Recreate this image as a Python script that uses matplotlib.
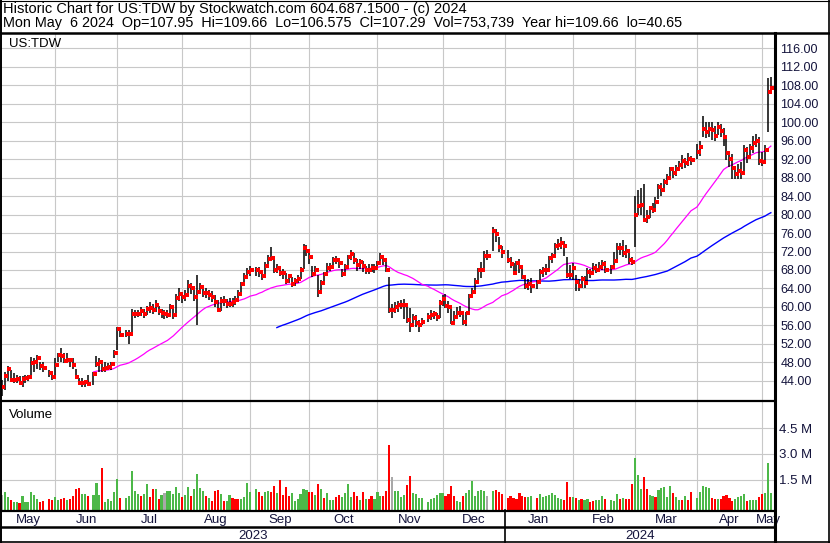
"""Stockwatch-style historic chart for US:TDW, May 2023 - May 2024."""
import numpy as np
import pandas as pd
import matplotlib
matplotlib.use('Agg')
import matplotlib.pyplot as plt
from matplotlib.lines import Line2D

plt.rcParams['font.family'] = ['Liberation Sans', 'DejaVu Sans']

START, END = '2023-05-08', '2024-05-06'
HOLIDAYS = ['2023-05-29', '2023-06-19', '2023-07-04', '2023-09-04', '2023-11-23',
            '2023-12-25', '2024-01-01', '2024-01-15', '2024-02-19', '2024-03-29']

# daily close / high / low, one row per month
close = [
    42.6, 45.1, 46.7, 44.2, 44.2, 44.4, 43.6, 44.5, 44.7, 44.9, 47.8, 48.0, 48.9, 47.2, 46.9, 45.8, 44.8,
    47.5, 49.6, 49.4, 48.4, 48.6, 48.6, 47.5, 44.8, 43.6, 43.6, 43.8, 43.4, 45.5, 47.7, 48.0, 46.7, 46.9, 47.1, 47.7, 50.1, 55.3,
    54.0, 54.2, 54.2, 58.5, 58.5, 58.5, 59.2, 58.5, 59.5, 59.7, 59.4, 60.4, 59.1, 58.6, 58.4, 58.3, 59.9, 58.3, 61.9, 62.8,
    62.2, 62.6, 64.5, 64.0, 62.2, 63.3, 64.4, 63.0, 63.1, 62.6, 62.2, 61.1, 59.4, 61.4, 61.3, 60.7, 60.7, 61.1, 61.5, 62.8, 64.9, 66.5, 67.6,
    67.9, 67.9, 67.6, 66.7, 68.9, 70.4, 70.7, 67.9, 68.5, 67.4, 67.3, 65.6, 66.6, 65.0, 65.7, 66.1, 67.9, 72.8, 72.2, 70.9,
    67.1, 68.0, 63.3, 65.1, 67.1, 68.4, 68.7, 70.2, 70.2, 69.5, 67.1, 68.7, 70.9, 71.4, 70.2, 69.1, 69.8, 68.9, 67.9, 68.0, 68.5, 68.4,
    69.5, 70.9, 70.2, 67.9, 59.4, 59.4, 59.9, 60.4, 60.4, 60.4, 57.2, 56.1, 57.7, 56.6, 56.1, 56.8, 57.9, 58.3, 58.5, 57.9, 60.8,
    61.7, 60.2, 59.9, 56.6, 57.9, 58.8, 58.8, 56.8, 58.6, 62.4, 63.3, 65.3, 68.0, 68.1, 71.1, 71.1, 76.5, 75.7, 72.9, 72.0,
    70.2, 69.3, 67.3, 69.5, 68.6, 66.4, 64.5, 65.0, 64.5, 65.3, 67.6, 68.1, 68.0, 70.5, 71.0, 73.2, 73.4, 73.8, 73.2, 66.9, 66.9,
    68.4, 65.3, 64.5, 66.0, 65.1, 67.6, 67.4, 68.4, 68.1, 68.6, 69.3, 67.9, 68.7, 70.0, 72.7, 72.7, 71.7, 72.2, 70.2, 69.8,
    80.0, 81.8, 82.0, 78.9, 79.4, 81.3, 81.0, 82.8, 86.0, 85.2, 87.0, 87.8, 89.8, 88.9, 89.8, 90.8, 91.6, 91.1, 91.9, 91.8,
    93.6, 94.7, 98.5, 97.9, 98.5, 98.3, 97.0, 99.0, 98.1, 96.8, 93.4, 92.0, 90.0, 88.7, 89.3, 89.0, 93.9, 92.5, 94.3, 95.5, 96.0, 91.6,
    91.3, 93.9, 106.4, 107.29,
]
high = [
    44.2, 46.0, 47.2, 46.4, 45.7, 45.3, 45.0, 45.1, 45.4, 45.3, 49.2, 48.9, 49.6, 48.1, 48.2, 46.4, 46.0,
    48.9, 50.1, 51.1, 50.0, 50.0, 49.0, 48.9, 46.7, 44.6, 44.6, 44.3, 45.3, 46.0, 49.3, 48.9, 47.8, 48.2, 47.8, 48.2, 50.7, 55.7,
    55.7, 55.0, 55.0, 59.6, 59.4, 59.4, 60.0, 59.6, 60.3, 61.0, 60.6, 61.6, 60.2, 59.6, 59.4, 59.3, 60.7, 60.3, 62.9, 64.0,
    63.3, 63.6, 65.8, 65.2, 63.6, 66.9, 65.2, 64.4, 64.2, 63.7, 63.4, 62.6, 61.6, 62.2, 62.4, 61.8, 61.9, 62.0, 62.4, 63.6, 65.5, 67.4, 68.4,
    68.8, 68.6, 68.7, 68.0, 69.7, 71.3, 73.0, 70.3, 69.2, 68.9, 68.2, 67.4, 67.2, 66.5, 66.3, 66.9, 68.6, 73.7, 73.3, 72.4,
    68.9, 68.8, 66.9, 65.8, 67.6, 69.5, 69.6, 70.9, 71.0, 70.6, 68.3, 69.4, 71.3, 72.3, 71.6, 70.4, 70.4, 70.0, 68.9, 69.2, 69.3, 69.2,
    70.0, 71.6, 71.3, 70.4, 66.4, 60.6, 61.0, 61.2, 61.5, 61.7, 60.3, 59.7, 58.4, 58.2, 57.2, 57.6, 58.7, 59.4, 59.1, 58.7, 61.5,
    62.6, 62.8, 61.4, 59.7, 59.2, 59.9, 60.3, 59.0, 59.0, 62.8, 64.1, 66.2, 68.4, 69.8, 72.2, 72.4, 77.3, 76.8, 75.2, 73.2,
    72.4, 70.8, 69.5, 70.0, 70.4, 68.9, 66.6, 66.0, 66.2, 65.9, 68.2, 68.7, 69.2, 71.1, 71.7, 73.9, 74.6, 75.1, 74.3, 70.9, 69.0,
    69.6, 67.0, 66.0, 66.6, 66.8, 68.4, 68.3, 69.5, 69.2, 69.7, 70.2, 69.9, 69.0, 71.9, 73.8, 73.8, 74.4, 73.4, 72.4, 70.9,
    84.0, 85.3, 85.7, 86.7, 80.9, 81.9, 82.5, 83.7, 86.7, 86.8, 87.7, 88.8, 90.3, 90.2, 90.6, 91.6, 92.9, 92.3, 93.2, 92.7,
    95.3, 95.8, 101.2, 99.9, 100.0, 100.0, 99.1, 100.0, 99.6, 98.7, 96.6, 93.5, 93.0, 90.0, 90.9, 91.3, 95.0, 94.5, 95.3, 97.0, 97.4, 96.7,
    93.6, 95.1, 109.5, 109.66,
]
low = [
    40.65, 42.0, 43.9, 43.9, 43.6, 43.5, 43.1, 42.6, 43.6, 43.9, 45.2, 46.0, 46.7, 46.4, 46.0, 44.9, 44.3,
    44.6, 48.2, 48.2, 47.8, 48.2, 47.1, 46.7, 44.6, 43.1, 42.8, 42.8, 43.1, 43.1, 47.1, 46.0, 46.0, 46.0, 46.4, 46.4, 48.9, 50.7,
    53.6, 53.6, 52.1, 54.7, 57.6, 57.8, 58.0, 57.7, 58.2, 58.7, 58.4, 59.0, 58.2, 57.7, 57.5, 57.6, 58.2, 57.4, 58.8, 61.2,
    60.8, 61.4, 62.8, 62.8, 61.4, 56.0, 62.8, 62.2, 61.9, 61.6, 61.0, 60.0, 58.9, 59.2, 60.2, 59.8, 59.9, 60.1, 60.5, 61.2, 62.5, 64.6, 66.0,
    66.7, 66.8, 66.5, 65.9, 66.6, 68.6, 70.0, 67.4, 67.3, 66.6, 66.0, 65.0, 65.1, 64.3, 64.6, 65.2, 66.0, 68.3, 71.0, 69.3,
    66.5, 67.0, 62.2, 63.2, 65.5, 66.6, 67.8, 68.3, 69.3, 68.5, 66.4, 67.2, 68.8, 70.2, 69.3, 67.7, 68.2, 67.5, 67.1, 67.1, 67.5, 67.3,
    68.0, 69.2, 69.0, 67.5, 58.6, 57.7, 58.7, 59.0, 59.5, 57.5, 56.5, 54.5, 55.9, 55.6, 54.5, 56.0, 56.7, 57.2, 57.4, 56.9, 57.6,
    60.2, 59.8, 58.8, 56.3, 56.2, 57.7, 57.8, 56.2, 55.8, 58.4, 62.2, 62.8, 65.2, 66.3, 68.2, 70.2, 72.2, 74.0, 72.0, 70.6,
    69.5, 68.5, 66.9, 67.0, 67.4, 66.0, 63.9, 63.6, 63.1, 63.9, 65.3, 66.4, 66.9, 68.4, 69.6, 71.3, 72.3, 72.6, 71.0, 66.3, 66.0,
    65.9, 63.5, 63.4, 64.1, 64.2, 65.6, 66.2, 67.0, 67.3, 67.5, 68.1, 67.4, 67.2, 68.9, 69.9, 71.2, 70.9, 70.6, 69.3, 69.0,
    73.0, 79.9, 79.9, 78.6, 78.2, 79.2, 80.3, 80.7, 83.3, 84.1, 85.6, 86.4, 87.9, 87.8, 88.4, 89.6, 89.9, 90.1, 90.5, 90.6,
    92.0, 92.6, 96.8, 96.5, 96.8, 96.2, 96.0, 97.2, 96.7, 94.9, 91.7, 90.3, 87.7, 87.6, 87.6, 87.6, 88.6, 91.1, 92.1, 93.3, 94.6, 90.7,
    90.4, 91.4, 97.9, 106.575,
]
# volume in millions of shares
volume = [
    0.63, 0.82, 0.49, 0.34, 0.24, 0.24, 0.18, 0.57, 0.24, 0.24, 0.80, 0.62, 0.39, 0.24, 0.30, 0.39, 0.35,
    0.51, 0.34, 0.39, 0.45, 0.34, 0.39, 0.57, 0.97, 1.03, 0.70, 0.66, 0.57, 0.61, 1.32, 0.61, 2.19, 0.22, 0.41, 0.28, 0.80, 1.55,
    0.45, 0.45, 0.57, 2.01, 0.86, 0.66, 0.57, 0.68, 1.26, 0.51, 0.95, 0.97, 0.39, 0.62, 0.74, 0.86, 0.86, 0.68, 1.09, 0.74,
    0.49, 0.61, 1.07, 0.57, 0.99, 1.84, 1.03, 0.86, 0.57, 0.45, 0.30, 0.88, 0.92, 0.66, 0.30, 0.30, 0.62, 0.43, 0.39, 0.37, 0.41, 0.53, 1.32,
    0.78, 0.97, 0.82, 0.57, 0.82, 0.88, 0.80, 1.15, 0.76, 1.49, 0.62, 1.07, 0.57, 0.74, 0.30, 0.37, 0.66, 0.95, 0.90, 0.80,
    0.80, 0.62, 1.26, 0.97, 0.47, 0.76, 0.35, 0.35, 0.49, 0.62, 0.51, 0.76, 1.26, 0.51, 0.80, 0.59, 0.35, 0.80, 0.39, 0.39, 0.57, 0.41,
    0.80, 0.57, 0.57, 0.88, 3.52, 1.65, 0.86, 0.86, 0.53, 0.63, 1.20, 1.73, 0.72, 0.66, 0.45, 0.45, 0.22, 0.41, 0.43, 0.62, 0.72,
    0.72, 0.57, 0.68, 1.15, 0.57, 0.30, 0.24, 0.57, 0.72, 0.92, 1.46, 0.57, 0.88, 0.92, 0.88, 0.57, 0.88, 0.92, 0.80, 0.68,
    0.47, 0.59, 0.47, 0.41, 0.76, 0.57, 0.53, 0.51, 0.59, 0.47, 0.68, 0.53, 0.55, 0.65, 0.74, 0.62, 0.43, 0.39, 0.34, 1.40, 0.53,
    0.53, 0.47, 0.35, 0.41, 0.34, 0.39, 0.24, 0.28, 0.34, 0.35, 0.57, 0.41, 0.34, 0.30, 0.68, 0.41, 0.45, 0.41, 0.41, 1.26,
    2.75, 1.78, 0.97, 1.67, 0.95, 0.62, 0.57, 0.53, 0.92, 1.01, 1.07, 0.53, 1.15, 0.76, 0.53, 0.34, 0.35, 0.59, 0.35, 0.80,
    0.45, 0.82, 1.15, 1.07, 1.01, 0.45, 0.37, 0.41, 0.41, 0.57, 0.61, 0.45, 0.30, 0.41, 0.51, 0.57, 0.68, 0.30, 0.34, 0.34, 0.35, 0.51,
    0.68, 0.72, 2.50, 0.75,
]
# volume bar colour as drawn: g = up, r = down, n = unchanged (one string per month)
vol_dir = ''.join([
    'nggrggrggggggrrrr',
    'ggrrgrrrrggrgggrggggg',
    'rgggggrggrrgrgnggggg',
    'rggrggggrgrrrgrggrrrggg',
    'ggrrggrrgrrrrggggggr',
    'rgrgrgggrrggggrrgrgrrg',
    'ggrrrngg' 'ggrrgggg' 'ggggg',
    'grrrrggrgggggggn' 'grrr',
    'rrrrrrrgg' 'rggggggggrrr',
    'grgrggrrgggr' 'gggrgrrr',
    'gggrrggrgggggrggrgrr',
    'gggggrrgrrrrrggggrgggr',
    'rggg',
])
assert len(close) == len(high) == len(low) == len(volume) == len(vol_dir)

# --- geometry: one slot per weekday, holidays leave an empty slot ---
weekdays = pd.bdate_range(START, END)
tdays = weekdays[~weekdays.isin(pd.to_datetime(HOLIDAYS))]
x = weekdays.get_indexer(tdays)
assert len(x) == len(close)
close_s = pd.Series(close)
ma30 = close_s.rolling(30).mean()
ma90 = close_s.rolling(90).mean()

month_starts = pd.date_range('2023-06-01', '2024-05-01', freq='MS')
grid_x = weekdays.searchsorted(month_starts, side='right') - 1
XLIM = (-0.27, 261.4)

W, H = 830, 543
fig = plt.figure(figsize=(W / 100, H / 100), dpi=100)


def box(x0, y0, x1, y1):
    return [x0 / W, 1 - y1 / H, (x1 - x0) / W, (y1 - y0) / H]


def hline(y, x0, x1, lw):
    fig.add_artist(Line2D([x0 / W, x1 / W], [1 - y / H] * 2, color='black', lw=lw))


def vline(xp, y0, y1, lw):
    fig.add_artist(Line2D([xp / W] * 2, [1 - y0 / H, 1 - y1 / H], color='black', lw=lw))


GRID = '#c8c8c8'
LABEL = '#14143c'

# price panel
ax = fig.add_axes(box(1, 34, 775, 400))
ax.set_xlim(*XLIM)
ax.set_ylim(39.89, 119.03)
yt = np.arange(44, 117, 4)
ax.set_yticks(yt)
ax.set_yticklabels([f'{v:.2f}' for v in yt])
ax.yaxis.tick_right()
ax.tick_params(axis='y', length=0, pad=4.0, labelsize=9.0, labelcolor=LABEL)
ax.set_xticks([])
ax.yaxis.grid(True, color=GRID, lw=0.8)
for g in grid_x:
    ax.axvline(g, color=GRID, lw=0.8, zorder=0)
ax.set_axisbelow(True)
for sp in ax.spines.values():
    sp.set_visible(False)

ax.plot(x, ma90, color='#0000ff', lw=1.0, zorder=2)
ax.plot(x, ma30, color='#ff00ff', lw=0.9, zorder=2)
ax.vlines(x, low, high, colors='black', lw=1.1, zorder=3)
ax.plot(x + 0.55, close, 's', color='#ff0000', ms=2.6, mew=0, zorder=4)

# volume panel
VMIN, VMAX = -0.214, 6.01
axv = fig.add_axes(box(1, 402, 775, 509.5))
axv.set_xlim(*XLIM)
axv.set_ylim(VMIN, VMAX)
vt = [1.5, 3.0, 4.5]
axv.set_yticks(vt)
axv.set_yticklabels([f'{v:.1f} M' for v in vt])
axv.yaxis.tick_right()
axv.tick_params(axis='y', length=0, pad=3.0, labelsize=9.5, labelcolor=LABEL)
axv.set_xticks([])
axv.yaxis.grid(True, color=GRID, lw=0.8)
for g in grid_x:
    axv.axvline(g, color=GRID, lw=0.8, zorder=0)
axv.set_axisbelow(True)
for sp in axv.spines.values():
    sp.set_visible(False)
vcol = {'g': '#4cb848', 'r': '#ff0000', 'n': '#a8a8a8'}
axv.bar(x, np.array(volume) - VMIN, bottom=VMIN, width=0.72,
        color=[vcol[c] for c in vol_dir], zorder=2)

# month band and year band
axm = fig.add_axes(box(1, 510, 775, 527))
axy = fig.add_axes(box(1, 527, 775, 542))
for a in (axm, axy):
    a.set_xlim(*XLIM)
    a.set_ylim(0, 1)
    a.axis('off')
edges = [XLIM[0]] + list(grid_x) + [XLIM[1]]
names = ['May'] + [d.strftime('%b') for d in month_starts]
for i, name in enumerate(names):
    axm.text((edges[i] + edges[i + 1]) / 2, 0.25, name, ha='center', va='baseline',
             fontsize=9.5, color=LABEL)
jan = grid_x[list(month_starts.month).index(1)]
axy.text((XLIM[0] + jan) / 2, 0.2, '2023', ha='center', va='baseline', fontsize=9.5, color=LABEL)
axy.text((jan + XLIM[1]) / 2, 0.2, '2024', ha='center', va='baseline', fontsize=9.5, color=LABEL)
jan_px = 1 + (jan - XLIM[0]) / (XLIM[1] - XLIM[0]) * 774
vline(jan_px, 510, 542, 1.2)

# frame and separators
hline(0.5, 0, 830, 0.8)
hline(32.5, 0, 830, 1.8)
hline(401, 0, 775, 1.6)
hline(510.5, 0, 775, 1.6)
hline(527, 0, 775, 1.8)
hline(542, 0, 830, 1.2)
vline(0.7, 0, 543, 1.4)
vline(774.5, 32.5, 543, 2.2)
vline(829, 0, 543, 1.2)

# texts
fig.text(3 / W, 1 - 13.2 / H, 'Historic Chart for US:TDW by Stockwatch.com 604.687.1500 - (c) 2024',
         fontsize=10.5, va='baseline')
fig.text(3 / W, 1 - 27.5 / H,
         'Mon May  6 2024  Op=107.95  Hi=109.66  Lo=106.575  Cl=107.29  Vol=753,739  Year hi=109.66  lo=40.65',
         fontsize=10.4, va='baseline')
fig.text(9.3 / W, 1 - 46.7 / H, 'US:TDW', fontsize=9.5, va='baseline')
fig.text(9.3 / W, 1 - 417.7 / H, 'Volume', fontsize=9.5, va='baseline')

fig.savefig('out.png', dpi=100)
